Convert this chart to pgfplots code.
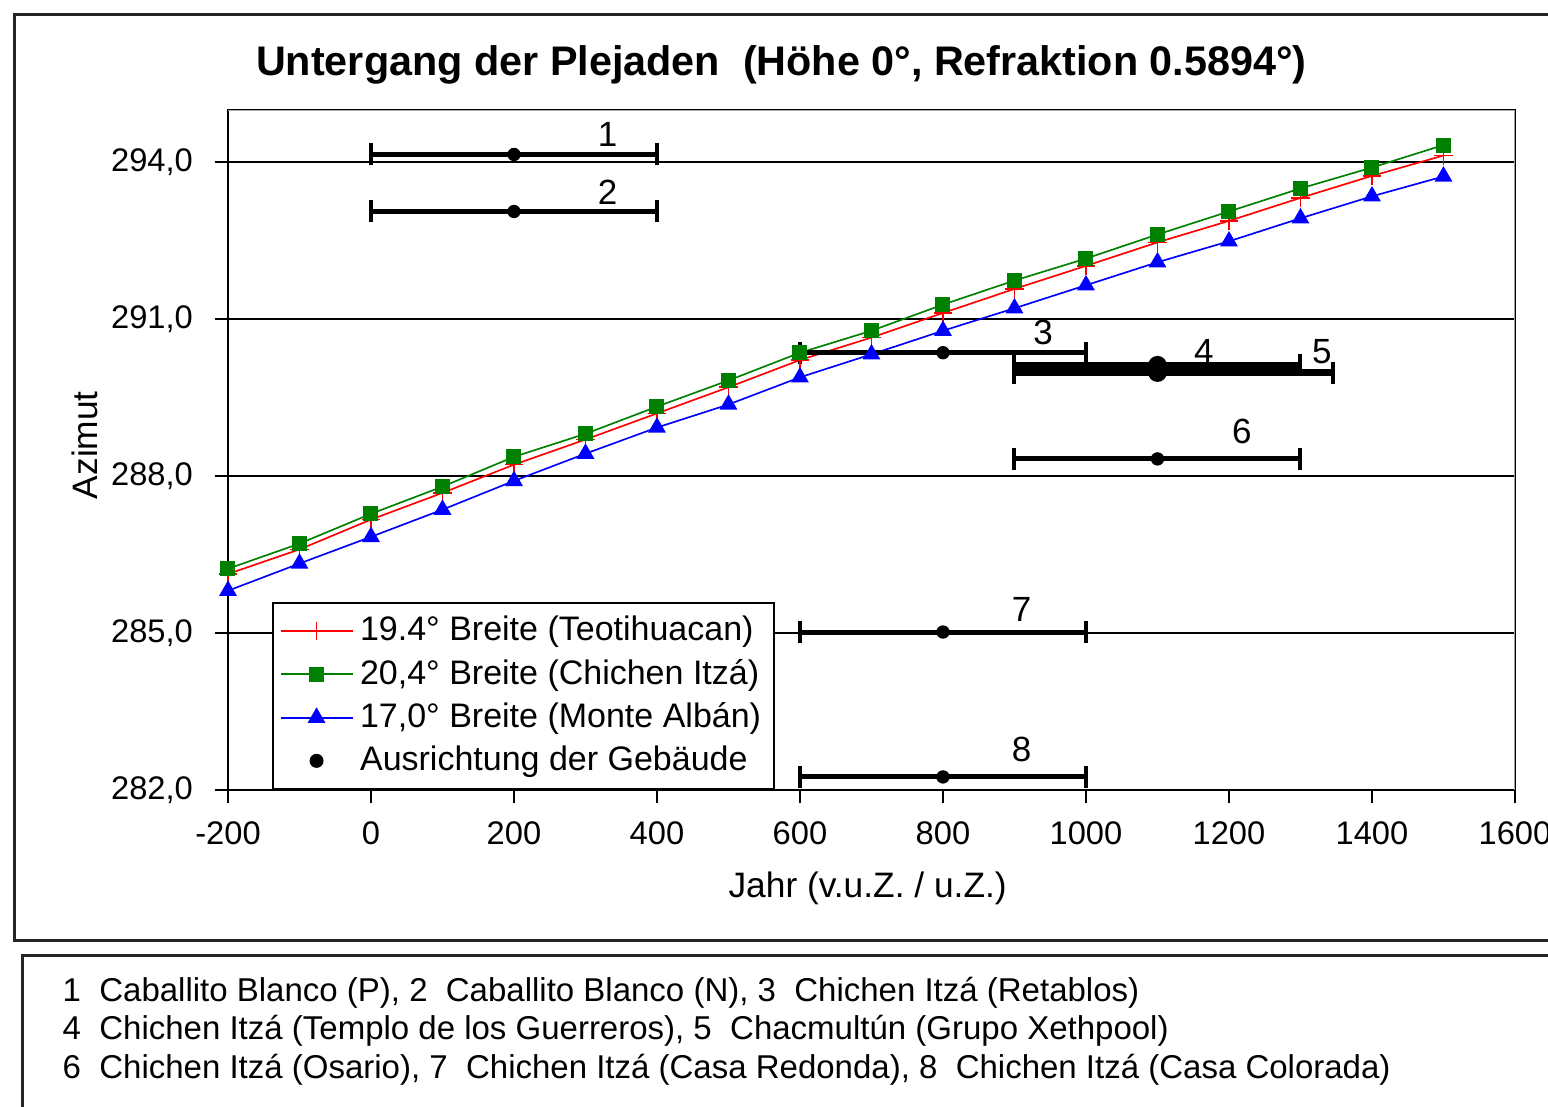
\documentclass[border=0pt]{standalone}
\usepackage{pgfplots}
\pgfplotsset{compat=1.18}
\usepackage{fontspec}
\setmainfont{Liberation Sans}
\definecolor{cred}{RGB}{255,0,0}
\definecolor{cgreen}{RGB}{0,128,0}
\definecolor{cblue}{RGB}{0,0,255}

\pgfplotstableread{
x y em ep
200 294.15 200 200
200 293.06 200 200
800 290.36 200 200
1100 288.33 200 200
800 285.02 200 200
800 282.25 200 200
}\bars

\pgfplotstableread{
x y em ep
1100 290.12 200 200
1100 289.98 200 245
}\thickbars

\begin{document}
\begin{tikzpicture}
\useasboundingbox (0,0) rectangle (464.4pt,-332.1pt);
\begin{scope}[x=0.3pt,y=-0.3pt]
\draw[line width=0.9pt, black!85] (14,14) rectangle (1620,940);
\draw[line width=0.9pt, black!85] (22,1200) |- (1620,955);
\node[anchor=base west, font=\fontsize{9.9}{10}\selectfont, inner sep=0pt] at (62,1001) {1\ \ Caballito Blanco (P), 2\ \ Caballito Blanco (N), 3\ \ Chichen Itzá (Retablos)};
\node[anchor=base west, font=\fontsize{9.9}{10}\selectfont, inner sep=0pt] at (62,1039) {4\ \ Chichen Itzá (Templo de los Guerreros), 5\ \ Chacmultún (Grupo Xethpool)};
\node[anchor=base west, font=\fontsize{9.9}{10}\selectfont, inner sep=0pt] at (62,1078) {6\ \ Chichen Itzá (Osario), 7\ \ Chichen Itzá (Casa Redonda), 8\ \ Chichen Itzá (Casa Colorada)};
\end{scope}
\begin{axis}[
  at={(68.4pt,-237pt)}, anchor=south west,
  scale only axis, width=386.1pt, height=204pt,
  xmin=-200, xmax=1600, ymin=282, ymax=295,
  xtick={-200,0,200,400,600,800,1000,1200,1400,1600},
  ytick={282,285,288,291,294},
  xtick pos=bottom, ytick pos=left,
  tick align=outside, major tick length=4pt,
  tick style={black, line width=0.6pt},
  axis line style={black, line width=0.7pt},
  ymajorgrids, grid style={black, line width=0.6pt},
  /pgf/number format/assume math mode=true,
  x tick label style={font=\fontsize{9.8}{10}\selectfont, /pgf/number format/1000 sep={}, yshift=-2pt},
  y tick label style={font=\fontsize{9.8}{10}\selectfont, /pgf/number format/.cd, fixed, fixed zerofill, precision=1, use comma, /tikz/.cd, xshift=-3pt},
  every axis title shift=0pt,
  title={\bfseries Untergang der Plejaden\ \ (Höhe 0°, Refraktion 0.5894°)},
  title style={at={(0.43,1.066)}, anchor=center, font=\fontsize{12.4}{13}\selectfont},
  xlabel={Jahr (v.u.Z. / u.Z.)},
  ylabel={Azimut},
  xlabel style={at={(0.497,-0.144)}, anchor=center, font=\fontsize{10.6}{11}\selectfont},
  ylabel style={at={(-0.111,0.507)}, anchor=center, rotate=0, font=\fontsize{10.6}{11}\selectfont},
  legend style={at={(0.0342,0)}, anchor=south west, draw=black, line width=0.6pt,
    font=\fontsize{10.2}{11}\selectfont, row sep=0pt, inner sep=2pt},
  legend cell align=left,
  legend image code/.code={\draw[mark repeat=2,mark phase=2,#1] plot coordinates {(0cm,0cm) (0.38cm,0cm) (0.76cm,0cm)};},
]
\addplot[color=cred, line width=0.5pt, mark=+, mark size=2.8pt] coordinates {
(-200,286.13) (-100,286.60) (0,287.17) (100,287.68) (200,288.22) (300,288.70)
(400,289.20) (500,289.70) (600,290.22) (700,290.65) (800,291.12) (900,291.58)
(1000,292.02) (1100,292.47) (1200,292.88) (1300,293.32) (1400,293.74) (1500,294.13)};
\addlegendentry{19.4° Breite (Teotihuacan)}
\addplot[color=cgreen, line width=0.5pt, mark=square*, mark size=2pt] coordinates {
(-200,286.23) (-100,286.71) (0,287.28) (100,287.80) (200,288.37) (300,288.81)
(400,289.33) (500,289.83) (600,290.36) (700,290.78) (800,291.28) (900,291.74)
(1000,292.16) (1100,292.62) (1200,293.06) (1300,293.50) (1400,293.90) (1500,294.33)};
\addlegendentry{20,4° Breite (Chichen Itzá)}
\addplot[color=cblue, line width=0.5pt, mark=triangle*, mark size=2.6pt] coordinates {
(-200,285.81) (-100,286.33) (0,286.84) (100,287.36) (200,287.91) (300,288.43)
(400,288.93) (500,289.37) (600,289.89) (700,290.33) (800,290.78) (900,291.21)
(1000,291.65) (1100,292.09) (1200,292.49) (1300,292.93) (1400,293.35) (1500,293.73)};
\addlegendentry{17,0° Breite (Monte Albán)}
\addplot[black, only marks, mark=*, mark size=1.8pt,
  error bars/.cd, x dir=both, x explicit,
  error bar style={line width=1.5pt},
  error mark=|, error mark options={mark size=3.3pt, line width=1.2pt}]
  table[x=x, y=y, x error minus=em, x error plus=ep] {\bars};
\addlegendentry{Ausrichtung der Gebäude}
\addplot[black, only marks, mark=*, mark size=2.6pt, forget plot,
  error bars/.cd, x dir=both, x explicit,
  error bar style={line width=2.2pt},
  error mark=|, error mark options={mark size=3.3pt, line width=1.2pt}]
  table[x=x, y=y, x error minus=em, x error plus=ep] {\thickbars};
\draw[gray!70, line width=0.7pt] (rel axis cs:0,1) -- (rel axis cs:1,1) -- (rel axis cs:1,0);
\node[font=\fontsize{10.5}{11}\selectfont] at (axis cs:331,294.54) {1};
\node[font=\fontsize{10.5}{11}\selectfont] at (axis cs:331,293.43) {2};
\node[font=\fontsize{10.5}{11}\selectfont] at (axis cs:940,290.75) {3};
\node[font=\fontsize{10.5}{11}\selectfont] at (axis cs:1165,290.38) {4};
\node[font=\fontsize{10.5}{11}\selectfont] at (axis cs:1330,290.38) {5};
\node[font=\fontsize{10.5}{11}\selectfont] at (axis cs:1218,288.85) {6};
\node[font=\fontsize{10.5}{11}\selectfont] at (axis cs:910,285.45) {7};
\node[font=\fontsize{10.5}{11}\selectfont] at (axis cs:910,282.77) {8};
\end{axis}
\end{tikzpicture}
\end{document}
